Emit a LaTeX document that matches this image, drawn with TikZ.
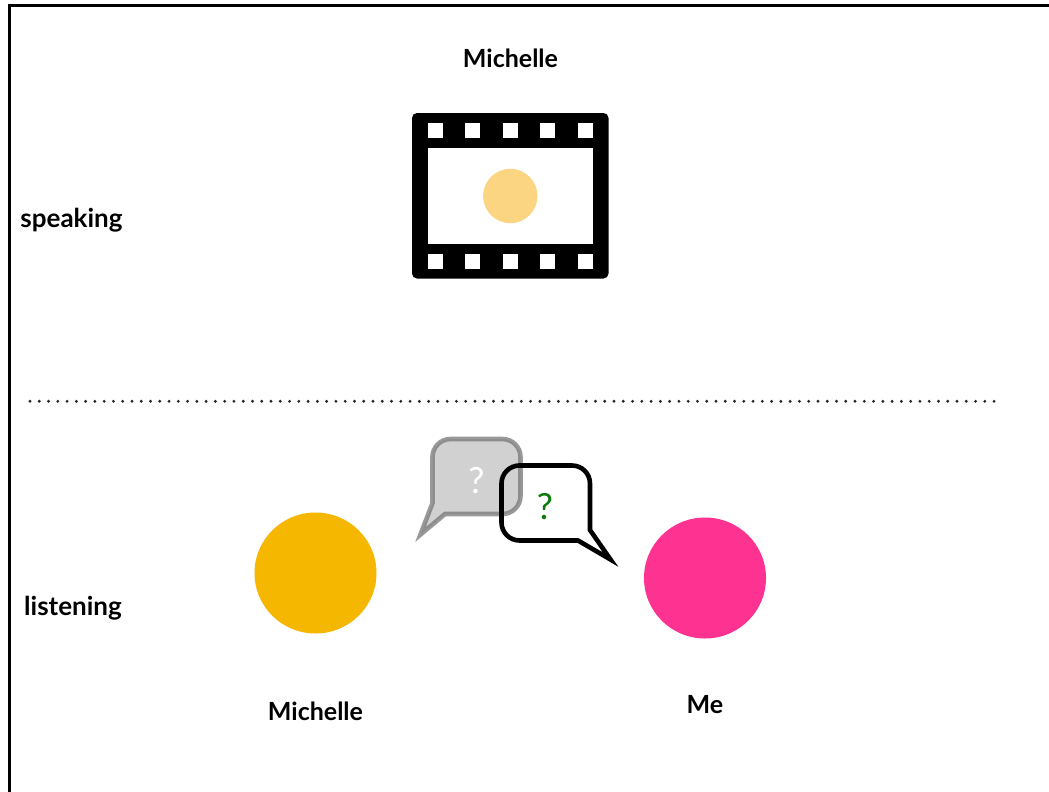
\documentclass[tikz,border=0pt]{standalone}
\usepackage{fontspec}
\setmainfont{Lato}
\definecolor{filmdot}{HTML}{FCD583}
\definecolor{michellec}{HTML}{F5B700}
\definecolor{mec}{HTML}{FE3291}
\definecolor{qgreen}{HTML}{0B7A0B}
\tikzset{
  label text/.style={font=\fontsize{25}{28}\selectfont\bfseries, text=black, inner sep=0pt, anchor=base},
  qmark/.style={font=\fontsize{36}{38}\selectfont, inner sep=0pt},
  hole/.style={fill=white, draw=none},
  bubble/.style={line width=4.6pt, line join=miter, miter limit=12}
}
\begin{document}
\begin{tikzpicture}[x=1pt,y=-1pt]
\useasboundingbox (0,0) rectangle (1049,792);
\fill[white] (0,0) rectangle (1049,792);
% frame
\draw[line width=3pt] (9,792) -- (9,6) -- (1049,6);
% film
\fill[black, rounded corners=5pt] (412,113) rectangle (608.5,278.5);
\fill[hole] (427.7,148.3) rectangle (592.7,243.7);
\foreach \hx in {427.7,465.3,502.7,540.3,578}{
  \fill[hole] (\hx,123.3) rectangle +(15,15);
  \fill[hole] (\hx,253.7) rectangle +(15,15);
}
\fill[filmdot] (510.3,196) circle[radius=27.2];
% divider
\foreach \i in {0,...,104}{
  \fill[black!85] ({30+\i*9.27},401.3) circle[radius=1.6];
}
% circles
\fill[michellec] (315.5,573) ellipse[x radius=61, y radius=60.5];
\fill[mec] (705,578) ellipse[x radius=61, y radius=60.5];
% gray bubble
\draw[bubble, draw=black!55!white, draw opacity=.72, fill=black!18]
  (432.5,503) -- (432.5,457) arc[start angle=180,end angle=270,radius=18]
  -- (502.5,439) arc[start angle=270,end angle=360,radius=18]
  -- (520.5,496) arc[start angle=0,end angle=90,radius=18]
  -- (445,514) -- (420.5,534.5) -- cycle;
\node[qmark, text=white] (q1) at (476.5,480.5) {?};
% black bubble
\draw[bubble, draw=black]
  (501.5,483.5) arc[start angle=180,end angle=270,radius=18]
  -- (572,465.5) arc[start angle=270,end angle=360,radius=18]
  -- (590,530) -- (610.5,559.5) -- (578,540.5) -- (519.5,540.5)
  arc[start angle=90,end angle=180,radius=18] -- cycle;
\node[qmark, text=qgreen] (q2) at (545,506.5) {?};
% labels
\node[label text] (t1) at (510.5,67) {Michelle};
\node[label text, font=\fontsize{26}{28}\selectfont\bfseries] (t2) at (71.5,227.5) {speaking};
\node[label text, font=\fontsize{26}{28}\selectfont\bfseries] (t3) at (73,615.5) {listening};
\node[label text] (t4) at (315.5,720.5) {Michelle};
\node[label text] (t5) at (705,713) {Me};
\end{tikzpicture}
\end{document}
